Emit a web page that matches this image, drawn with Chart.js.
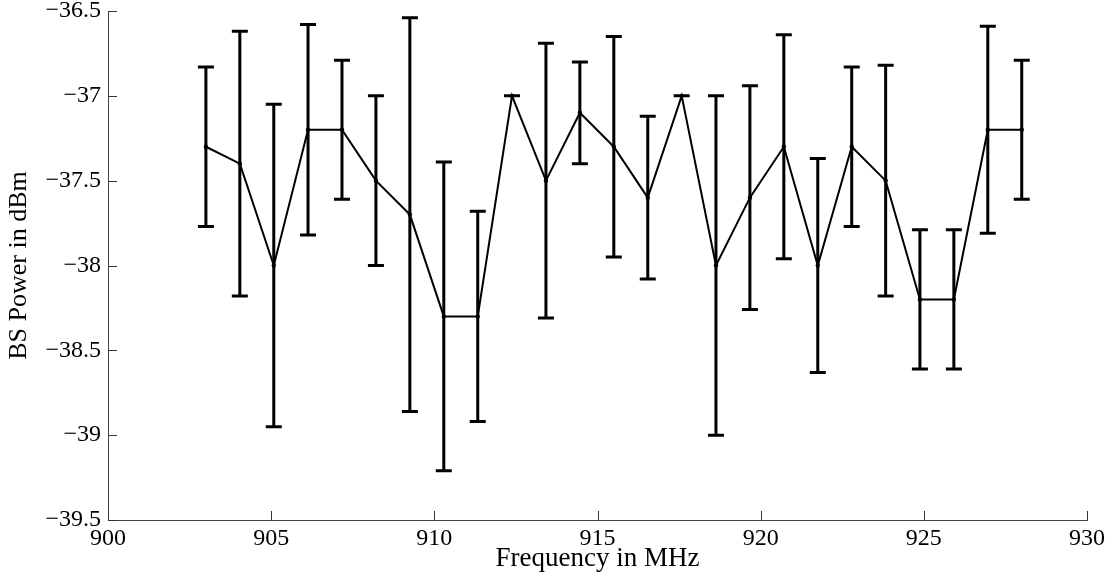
<!DOCTYPE html>
<html>
<head>
<meta charset="utf-8">
<title>BS Power vs Frequency</title>
<script src="https://cdn.jsdelivr.net/npm/chart.js@4.4.1/dist/chart.umd.min.js"></script>
<style>
  html, body { margin: 0; padding: 0; background: #fff; }
  #wrap { width: 1113px; height: 577px; }
</style>
</head>
<body>
<div id="wrap"><canvas id="power-chart" width="1113" height="577"></canvas></div>
<script>
// Measured channels (MHz), mean power (dBm) and +/- spread (dB)
const freqs = [903.0, 904.04, 905.08, 906.13, 907.17, 908.21, 909.25, 910.29, 911.33, 912.38,
  913.42, 914.46, 915.5, 916.54, 917.58, 918.63, 919.67, 920.71, 921.75, 922.79,
  923.83, 924.88, 925.92, 926.96, 928.0];
const power = [-37.3, -37.4, -38.0, -37.2, -37.2, -37.5, -37.7, -38.3, -38.3, -37.0,
  -37.5, -37.1, -37.3, -37.6, -37.0, -38.0, -37.6, -37.3, -38.0, -37.3,
  -37.5, -38.2, -38.2, -37.2, -37.2];
const spread = [0.47, 0.78, 0.95, 0.62, 0.41, 0.5, 1.16, 0.91, 0.62, 0,
  0.81, 0.3, 0.65, 0.48, 0, 1.0, 0.66, 0.66, 0.63, 0.47,
  0.68, 0.41, 0.41, 0.61, 0.41];

const xTicks = [900, 905, 910, 915, 920, 925, 930];
const yTicks = [-39.5, -39, -38.5, -38, -37.5, -37, -36.5];

const FONT = "'Liberation Serif', 'Times New Roman', serif";

// vertical bars with caps, drawn through the chart scales
const errorBars = {
  id: 'errorBars',
  afterDatasetsDraw(chart) {
    const { ctx, scales } = chart;
    const cap = 8;
    ctx.save();
    ctx.strokeStyle = '#000';
    ctx.lineWidth = 3;
    ctx.lineCap = 'butt';
    freqs.forEach((f, i) => {
      const px = scales.x.getPixelForValue(f);
      const top = scales.y.getPixelForValue(power[i] + spread[i]);
      const bot = scales.y.getPixelForValue(power[i] - spread[i]);
      ctx.beginPath();
      ctx.moveTo(px, top);
      ctx.lineTo(px, bot);
      ctx.moveTo(px - cap, top);
      ctx.lineTo(px + cap, top);
      ctx.moveTo(px - cap, bot);
      ctx.lineTo(px + cap, bot);
      ctx.stroke();
    });
    ctx.restore();
  }
};

// tick marks pointing into the plot area
const inwardTicks = {
  id: 'inwardTicks',
  afterDraw(chart) {
    const { ctx, chartArea, scales } = chart;
    ctx.save();
    ctx.strokeStyle = '#333';
    ctx.lineWidth = 1;
    ctx.beginPath();
    scales.x.ticks.forEach(t => {
      const px = Math.round(scales.x.getPixelForValue(t.value)) + 0.5;
      ctx.moveTo(px, chartArea.bottom);
      ctx.lineTo(px, chartArea.bottom - 9);
    });
    scales.y.ticks.forEach(t => {
      const py = Math.round(scales.y.getPixelForValue(t.value)) + 0.5;
      ctx.moveTo(chartArea.left, py);
      ctx.lineTo(chartArea.left + 9, py);
    });
    ctx.stroke();
    ctx.restore();
  }
};

const minus = v => String(v).replace('-', '\u2212');

new Chart(document.getElementById('power-chart'), {
  type: 'line',
  data: {
    datasets: [{
      data: freqs.map((f, i) => ({ x: f, y: power[i] })),
      borderColor: '#000',
      backgroundColor: '#000',
      borderWidth: 2,
      pointRadius: 2.2,
      pointBorderWidth: 0,
      tension: 0,
      fill: false
    }]
  },
  options: {
    responsive: false,
    animation: false,
    devicePixelRatio: 1,
    layout: { padding: { top: 11, right: 26, left: 0, bottom: 0 } },
    plugins: {
      legend: { display: false },
      tooltip: { enabled: false }
    },
    scales: {
      x: {
        type: 'linear',
        min: 900,
        max: 930,
        afterBuildTicks: s => { s.ticks = xTicks.map(v => ({ value: v })); },
        afterFit: s => { s.height = 57; s.paddingLeft = 0; s.paddingRight = 0; },
        ticks: {
          color: '#000',
          padding: 4,
          font: { family: FONT, size: 24 },
          callback: v => minus(v)
        },
        grid: { display: false, drawTicks: false },
        border: { display: true, color: '#444', width: 1 },
        title: {
          display: true,
          text: 'Frequency in MHz',
          color: '#000',
          font: { family: FONT, size: 27 },
          padding: { top: 0, bottom: 2 }
        }
      },
      y: {
        min: -39.5,
        max: -36.5,
        afterBuildTicks: s => { s.ticks = yTicks.map(v => ({ value: v })); },
        afterFit: s => { s.width = 108; s.paddingTop = 0; s.paddingBottom = 0; },
        ticks: {
          color: '#000',
          padding: 7,
          font: { family: FONT, size: 24 },
          callback: v => minus(v)
        },
        grid: { display: false, drawTicks: false },
        border: { display: true, color: '#444', width: 1 },
        title: {
          display: true,
          text: 'BS Power in dBm',
          color: '#000',
          font: { family: FONT, size: 26 },
          padding: { top: 4, bottom: 0 }
        }
      }
    }
  },
  plugins: [errorBars, inwardTicks]
});
</script>
</body>
</html>
